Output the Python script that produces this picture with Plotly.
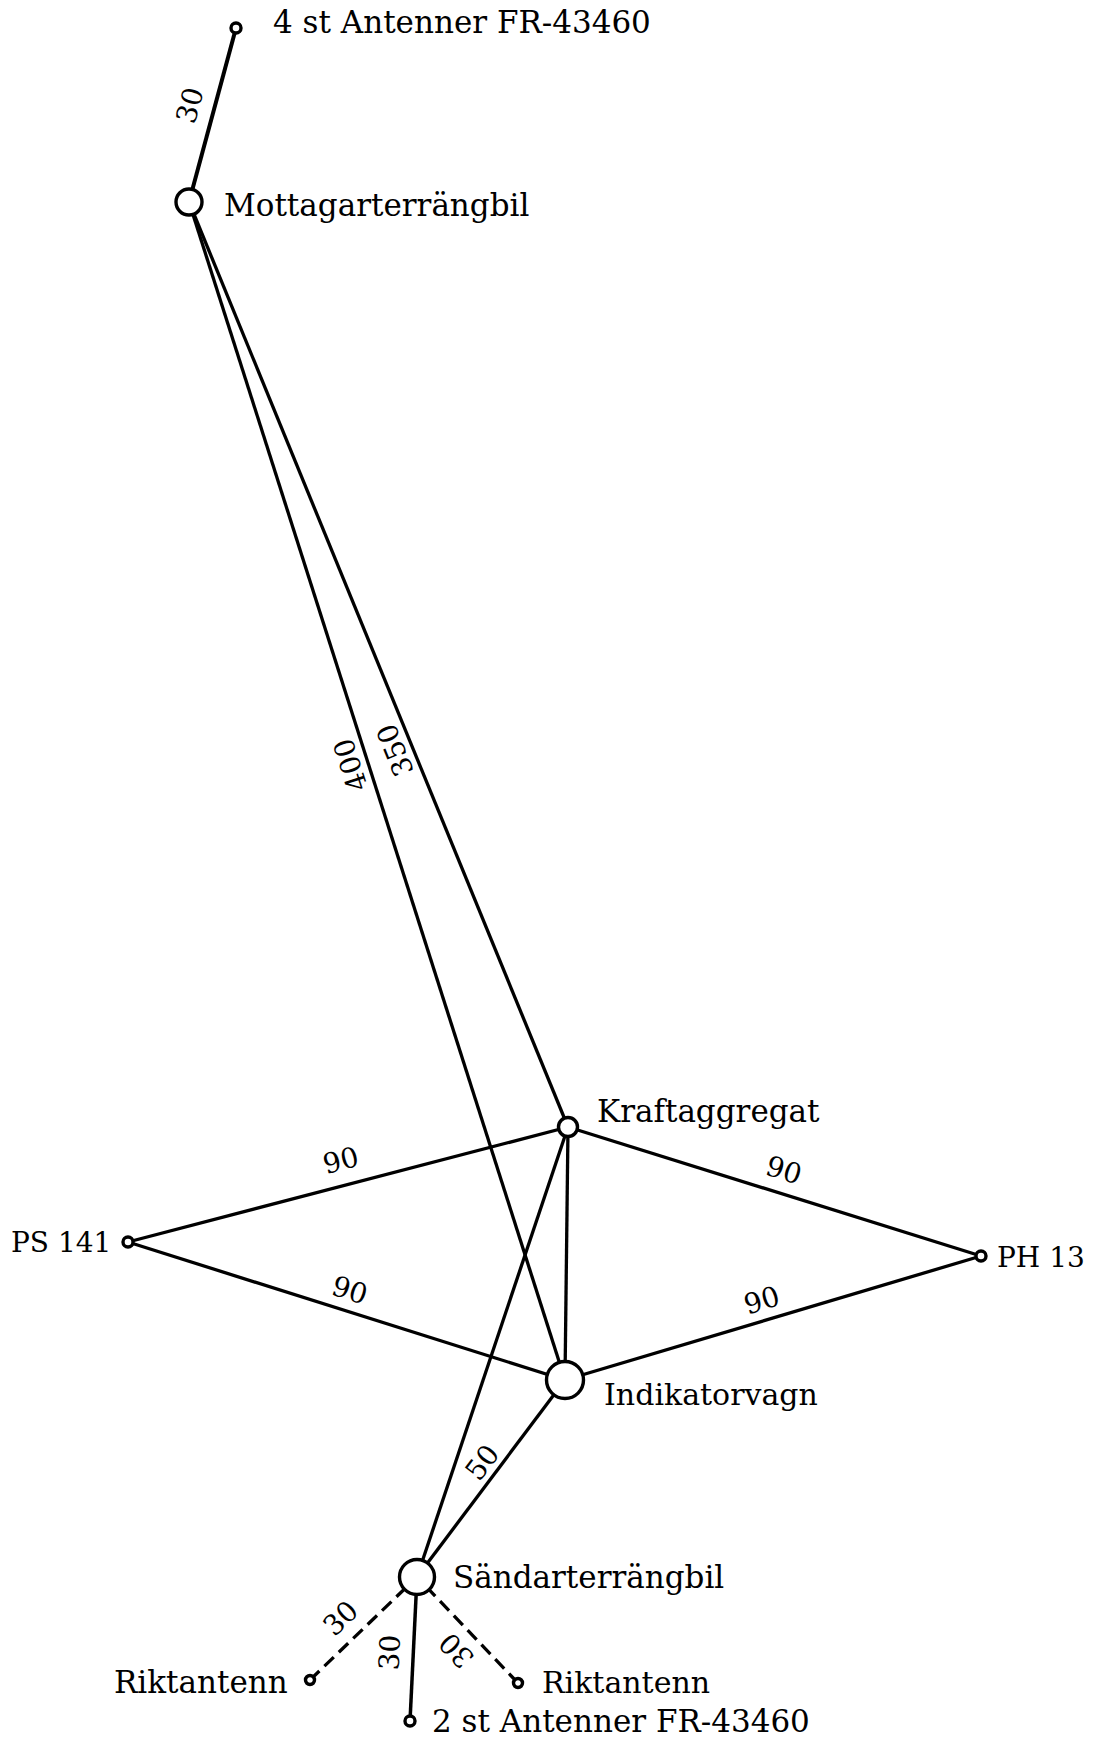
import math
import plotly.graph_objects as go

# ---------------- data ----------------
node_ids = ["A4", "M", "K", "PS", "PH", "I", "S", "RL", "RR", "A2"]
node_x = [236, 189, 568, 128, 981, 565, 417, 310, 518, 410]
node_y = [28, 202, 1127, 1242, 1256, 1380, 1577, 1680, 1683, 1721]
node_labels = ["4 st Antenner FR-43460", "Mottagarterrängbil", "Kraftaggregat",
               "PS 141", "PH 13", "Indikatorvagn", "Sändarterrängbil",
               "Riktantenn", "Riktantenn", "2 st Antenner FR-43460"]

edge_from = ["M", "I", "K", "PS", "PS", "K", "I", "K", "S", "S", "A2", "RL", "RR"]
edge_to = ["A4", "M", "M", "K", "I", "PH", "PH", "I", "K", "I", "S", "S", "S"]
edge_length = ["30", "400", "350", "90", "90", "90", "90", "", "", "50", "30", "30", "30"]
edge_dashed = [False, False, False, False, False, False, False, False, False, False, False, True, True]

# ---------------- styling / layout ----------------
W, H = 1093, 1739
node_size = [10, 26, 19, 10, 10, 37, 35, 9, 9, 10]
label_dx = [35, 33, 27, -15, 14, 37, 34, -20, 22, 20]
label_dy = [-6, 3, -16, 0, 1, 14, 0, 2, -1, 0]
label_size = [31, 31, 31, 28, 28, 30, 31, 31, 30, 31]
label_anchor = ["left", "left", "left", "right", "left", "left", "left", "right", "left", "left"]
edge_label_t = [0.523, 0.526, 0.414, 0.498, 0.494, 0.507, 0.487, 0.5, 0.5, 0.53, 0.472, 0.435, 0.45]
edge_label_off = [24, 17, 17, 25, 21, 23, 20, 0, 0, 16, 23, 23, 22]
edge_width = [4, 3.3, 3.3, 3.3, 3.3, 3.3, 3.3, 3.3, 3.3, 3.3, 3.5, 3.3, 3.3]

FONT = "DejaVu Serif"
pos = {n: (x, y) for n, x, y in zip(node_ids, node_x, node_y)}

fig = go.Figure()
annotations = []

for i, (a, b) in enumerate(zip(edge_from, edge_to)):
    x0, y0 = pos[a]
    x1, y1 = pos[b]
    fig.add_trace(go.Scatter(
        x=[x0, x1], y=[y0, y1], mode="lines",
        line=dict(color="black", width=edge_width[i],
                  dash="13px,7px" if edge_dashed[i] else "solid"),
        hoverinfo="skip", showlegend=False))
    if edge_length[i]:
        dx, dy = x1 - x0, y1 - y0
        L = math.hypot(dx, dy)
        ang = math.degrees(math.atan2(dy, dx))
        ux, uy = dy / L, -dx / L
        t = edge_label_t[i]
        off = edge_label_off[i]
        lx = x0 + t * dx + off * ux
        ly = y0 + t * dy + off * uy
        annotations.append(dict(
            x=lx, y=ly, xref="x", yref="y", text=edge_length[i],
            showarrow=False, textangle=ang, xanchor="center", yanchor="middle",
            font=dict(family=FONT, size=28, color="black")))

fig.add_trace(go.Scatter(
    x=node_x, y=node_y, mode="markers",
    marker=dict(size=node_size, color="white", opacity=1,
                line=dict(color="black", width=3.4)),
    hoverinfo="skip", showlegend=False))

for i, lab in enumerate(node_labels):
    annotations.append(dict(
        x=node_x[i] + label_dx[i], y=node_y[i] + label_dy[i], xref="x", yref="y",
        text=lab, showarrow=False, xanchor=label_anchor[i], yanchor="middle",
        font=dict(family=FONT, size=label_size[i], color="black")))

fig.update_layout(
    width=W, height=H, margin=dict(l=0, r=0, t=0, b=0),
    paper_bgcolor="white", plot_bgcolor="white",
    xaxis=dict(range=[0, W], visible=False, fixedrange=True),
    yaxis=dict(range=[H, 0], visible=False, fixedrange=True),
    annotations=annotations, showlegend=False)

fig.write_html("out.html", config={"displayModeBar": False},
               post_script="document.body.style.margin='0';")
